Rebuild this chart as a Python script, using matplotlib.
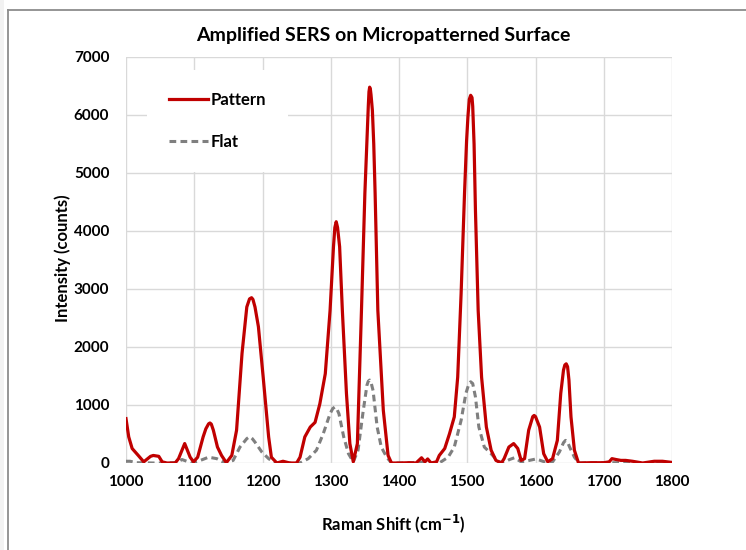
import matplotlib
matplotlib.use("Agg")
import matplotlib.pyplot as plt
from matplotlib.patches import Rectangle
from matplotlib.lines import Line2D

plt.rcParams['font.family'] = ['Lato', 'DejaVu Sans']

# Pattern (red, solid)
pattern_x = [1000, 1004, 1009, 1018, 1026, 1036, 1040, 1048, 1053, 1060, 1072, 1077, 1086, 1094, 1099,
             1105, 1113, 1117, 1121, 1123, 1125, 1128, 1134, 1140, 1147, 1155, 1162, 1170, 1177, 1181,
             1184, 1186, 1189, 1194,
             1201, 1209, 1213, 1221, 1230, 1240, 1250, 1255, 1262, 1270, 1277, 1284, 1292, 1299, 1304,
             1306, 1308, 1310, 1313, 1317, 1323, 1328, 1333, 1339, 1345, 1350, 1353, 1355, 1356, 1357,
             1358, 1359, 1361, 1363, 1365, 1369, 1377,
             1384, 1389, 1400, 1415, 1425, 1433, 1438, 1442, 1447, 1455, 1459, 1467, 1474, 1481, 1486,
             1491, 1496, 1499, 1501, 1503, 1505, 1507, 1508, 1510, 1512, 1516, 1521, 1528, 1535, 1542,
             1550, 1554, 1561, 1568,
             1574, 1579, 1584, 1590, 1596, 1598, 1600, 1606, 1612, 1618, 1625, 1632, 1637, 1641, 1643,
             1645, 1647, 1649, 1652,
             1657, 1663, 1680, 1700, 1708, 1712, 1718, 1725, 1732, 1742, 1757, 1774, 1786, 1800]
pattern_y = [765, 450, 250, 130, 20, 115, 130, 115, 20, 0, 0, 75, 335, 100, 20,
             100, 450, 590, 675, 690, 670, 565, 275, 130, 5, 130, 565, 1890, 2690, 2830,
             2850, 2820, 2690, 2350,
             1480, 450, 100, 0, 30, 0, 0, 100, 450, 620, 700, 1020, 1540, 2630, 3730,
             4060, 4160, 4060, 3730, 2630, 1200, 335, 20, 335, 2630, 4650, 5550, 6150, 6400, 6480,
             6450, 6350, 6080, 5500, 4650, 2630, 910,
             130, 0, 0, 5, 0, 90, 20, 70, 0, 20, 130, 250, 505, 795, 1480,
             2920, 4650, 5550, 5970, 6270, 6340, 6300, 6150, 5500, 4360, 2630, 1480, 620, 220, 45,
             0, 75, 275, 335,
             250, 45, 75, 565, 800, 820, 800, 620, 160, 20, 75, 390, 1200, 1600, 1690,
             1710, 1660, 1430, 795,
             220, 0, 5, 5, 20, 75, 60, 45, 45, 30, 0, 30, 30, 10]

# Flat (gray, dashed)
flat_x = [1000, 1006, 1015, 1040, 1060, 1075, 1082, 1096, 1109, 1121, 1133, 1145, 1157, 1167, 1177,
          1180, 1182, 1185, 1189, 1199, 1209, 1218, 1240, 1255, 1267, 1279, 1289, 1299, 1303, 1306,
          1309, 1312, 1319, 1326, 1333, 1340, 1347, 1353, 1355, 1357, 1359, 1362, 1368, 1374, 1382,
          1389, 1410, 1430, 1445, 1459, 1472, 1481, 1491, 1498, 1502, 1505, 1508, 1512, 1517, 1525,
          1535, 1545, 1552, 1562, 1569, 1579, 1591, 1601, 1613, 1625, 1635, 1641, 1644, 1647, 1650,
          1657, 1664, 1700, 1750, 1800]
flat_y = [30, 30, 5, 0, 0, 10, 60, 0, 45, 100, 75, 0, 45, 275, 420,
          445, 450, 420, 360, 190, 75, 0, 0, 0, 75, 220, 505, 850, 940, 965,
          930, 850, 450, 160, 20, 220, 850, 1340, 1410, 1430, 1390, 1250, 620, 275, 100,
          0, 0, 15, 0, 0, 100, 275, 735, 1200, 1350, 1400, 1370, 1140, 620, 275,
          160, 30, 0, 60, 90, 20, 45, 70, 20, 20, 190, 350, 390, 360, 275,
          100, 0, 5, 5, 5]

x_ticks = [1000, 1100, 1200, 1300, 1400, 1500, 1600, 1700, 1800]
y_ticks = [0, 1000, 2000, 3000, 4000, 5000, 6000, 7000]

W, H = 746, 550
fig = plt.figure(figsize=(W / 100, H / 100), dpi=100)
fig.patch.set_facecolor('white')

# Left grey strip and outer chart frame
fig.patches.append(Rectangle((0, 0), 4 / W, 1, transform=fig.transFigure,
                             facecolor='#f2f2f2', edgecolor='none', zorder=0))
fig.add_artist(Line2D([8 / W, 8 / W], [0, 1 - 10 / H], transform=fig.transFigure,
                      color='#8c8c8c', lw=1.3))
fig.add_artist(Line2D([8 / W, 1], [1 - 10 / H, 1 - 10 / H], transform=fig.transFigure,
                      color='#8c8c8c', lw=1.3))

left, right, top, bottom = 126, 672, 57, 463
ax = fig.add_axes([left / W, 1 - bottom / H, (right - left) / W, (bottom - top) / H])

ax.plot(pattern_x, pattern_y, color='#C00000', lw=2.3, solid_joinstyle='round',
        label='Pattern', zorder=3)
ax.plot(flat_x, flat_y, color='#7F7F7F', lw=2.2, linestyle=(0, (2.2, 1.4)),
        label='Flat', zorder=2)

ax.set_xlim(1000, 1800)
ax.set_ylim(0, 7000)
ax.set_xticks(x_ticks)
ax.set_yticks(y_ticks)
ax.set_xticklabels([str(v) for v in x_ticks], fontsize=11, fontweight='bold')
ax.set_yticklabels([str(v) for v in y_ticks], fontsize=11, fontweight='bold')
ax.tick_params(axis='y', length=0, pad=12)
ax.tick_params(axis='x', length=0, pad=9)
ax.grid(True, color='#d9d9d9', lw=1.0)
ax.set_axisbelow(True)
for s in ax.spines.values():
    s.set_visible(False)

fig.text(383 / W, 1 - 35 / H, 'Amplified SERS on Micropatterned Surface', fontsize=14,
         fontweight='bold', ha='center', va='center')
ax.set_xlabel('Raman Shift (cm$^{\\mathbf{-1}}$)', fontsize=12, fontweight='bold')
ax.set_ylabel('Intensity (counts)', fontsize=12, fontweight='bold')
ax.xaxis.set_label_coords((393 - left) / (right - left), (bottom - 524) / (bottom - top))
ax.xaxis.label.set_va('center')
ax.yaxis.set_label_coords((63 - left) / (right - left), 1 - (258 - top) / (bottom - top))
ax.yaxis.label.set_va('center')

leg = ax.legend(loc='upper left', bbox_to_anchor=((147 - left) / (right - left), 1 - (70 - top) / (bottom - top)),
                frameon=True, fancybox=False,
                edgecolor='none', facecolor='white', framealpha=1, handlelength=2.35,
                handletextpad=0.18, labelspacing=1.6, prop={'weight': 'bold', 'size': 12},
                borderpad=1.3, borderaxespad=0)

fig.savefig('out.png', dpi=100, facecolor='white')
